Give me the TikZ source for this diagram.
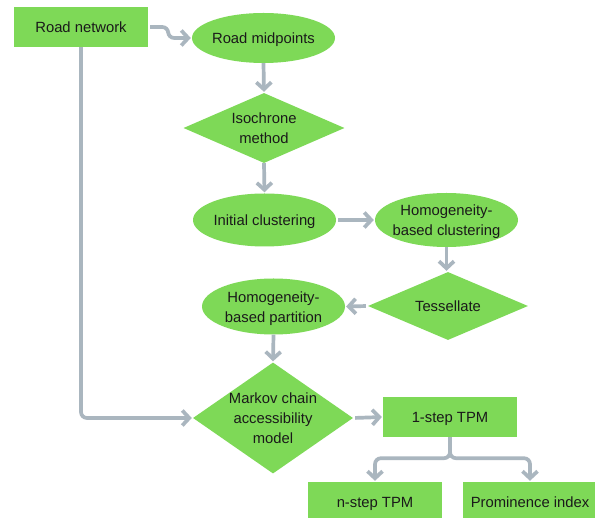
\documentclass[tikz,border=0pt]{standalone}
\usepackage{fontspec}
\setmainfont{Liberation Sans}
\usetikzlibrary{shapes.geometric,arrows.meta}
\definecolor{boxgreen}{HTML}{7ED957}
\definecolor{linegray}{HTML}{AAB6BF}
\definecolor{txt}{HTML}{1A1A1A}
\newcommand\ztxt[1]{\makebox[0pt]{\raisebox{-5.5pt}[0pt][0pt]{\begin{tabular}{@{}c@{}}#1\end{tabular}}}}
\begin{document}
\begin{tikzpicture}[x=1pt,y=-1pt,
  every node/.style={fill=boxgreen,draw=none,inner sep=0pt,text=txt,
    font=\fontsize{14.8}{20}\selectfont},
  rbox/.style={rectangle,minimum width=134pt,minimum height=40pt},
  ell/.style={ellipse,minimum width=143pt,minimum height=#1},
  dia/.style={diamond,minimum width=161pt,minimum height=#1},
  conn/.style={draw=linegray,line width=3.7pt,rounded corners=6pt,
    -{Straight Barb[length=7pt,width=15pt,line width=3.7pt]},
    shorten >=1pt}]
\useasboundingbox (0,0) rectangle (595,518);
\clip (0,0) rectangle (595,518);
\fill[white] (0,0) rectangle (595,518);

\node[rbox] (rn) at (81,27) {\ztxt{Road network}};
\node[ell=50pt] (rm) at (263.5,38) {\ztxt{Road midpoints}};
\node[dia=70pt] (iso) at (264,128) {\ztxt{Isochrone\\method}};
\node[ell=53pt] (ic) at (264.5,220) {\ztxt{Initial clustering}};
\node[ell=54pt] (hc) at (446.5,220) {\ztxt{Homogeneity-\\based clustering}};
\node[dia=68pt,minimum width=160pt] (ts) at (448,306) {\ztxt{Tessellate}};
\node[ell=56pt] (hp) at (273.5,306.5) {\ztxt{Homogeneity-\\based partition}};
\node[dia=111pt,minimum width=160pt] (mk) at (273,418) {\ztxt{Markov chain\\accessibility\\model}};
\node[rbox] (t1) at (450,417) {\ztxt{1-step TPM}};
\node[rbox] (tn) at (375,502) {\ztxt{n-step TPM}};
\node[rbox] (pi) at (530,502) {\ztxt{Prominence index}};

\draw[conn,shorten <=2pt] (rn.east) -- ++(20,0) |- (rm.west);
\draw[conn] (rm.south) -- (iso.north);
\draw[conn] (iso.south) -- (ic.north);
\draw[conn,shorten <=2pt] (ic.east) -- (hc.west);
\draw[conn] (hc.south) -- (hc.south |- ts.north);
\draw[conn,shorten <=2pt] (ts.west) -- (hp.east);
\draw[conn] (hp.south) -- (mk.north);
\draw[conn] (rn.south) |- (mk.west);
\draw[conn,shorten <=2pt] (mk.east) -- (t1.west);
\draw[conn] (t1.south) -- ++(0,21) -| (tn.north);
\draw[conn] (t1.south) -- ++(0,21) -| (pi.north);
\end{tikzpicture}
\end{document}
